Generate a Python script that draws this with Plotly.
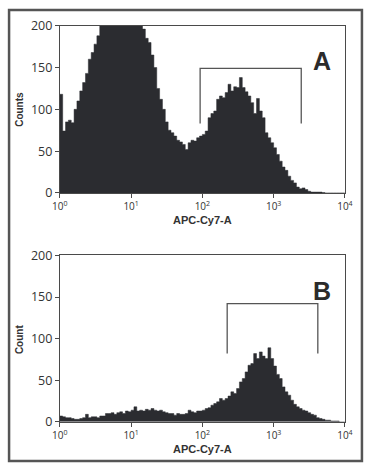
import plotly.graph_objects as go

# Histogram counts per log10 bin (bin width 0.04 decades, starting at 10^0)
bin_width_log = 0.04
counts_A = [118, 74, 85, 87, 84, 100, 110, 122, 132, 143,
            160, 168, 178, 188, 215, 230, 245, 255, 262, 270,
            268, 262, 255, 248, 240, 230, 220, 210, 205, 196,
            185, 180, 165, 150, 125, 112, 100, 85, 75, 72,
            68, 63, 61, 58, 52, 60, 63, 62, 66, 68,
            70, 74, 90, 95, 98, 112, 116, 114, 120, 130,
            122, 127, 126, 138, 126, 121, 116, 108, 95, 113,
            98, 90, 72, 66, 60, 54, 46, 38, 31, 27,
            20, 15, 12, 7, 5, 6, 4, 2, 1, 1,
            1, 1, 0.5, 0, 0, 0, 0, 0, 0, 0]
counts_B = [7, 6, 5, 5, 4, 3, 3, 4, 5, 9,
            5, 6, 6, 5, 7, 7, 10, 10, 11, 9,
            11, 12, 10, 13, 12, 14, 18, 13, 14, 13,
            15, 14, 16, 14, 13, 14, 12, 11, 10, 10,
            8, 10, 9, 9, 10, 14, 12, 11, 13, 13,
            14, 16, 17, 20, 22, 24, 28, 26, 28, 31,
            36, 34, 40, 48, 52, 60, 68, 70, 82, 76,
            84, 79, 76, 89, 76, 67, 57, 52, 42, 36,
            32, 26, 21, 18, 16, 14, 13, 11, 9, 8,
            5, 4, 3, 2, 2, 1, 1, 1, 0, 0]

# Gates: [left, right] in APC-Cy7-A units, bracket top and leg-bottom in counts
gate_A_x = [93, 2440]
gate_A_y = [149, 83]
gate_B_x = [223, 4170]
gate_B_y = [142, 82]

y_ticks = [0, 50, 100, 150, 200]
x_tickvals = [1, 10, 100, 1000, 10000]
x_ticktext = ["10<sup>0</sup>", "10<sup>1</sup>", "10<sup>2</sup>", "10<sup>3</sup>", "10<sup>4</sup>"]

panel_labels = ["A", "B"]
y_titles = ["Counts", "Count"]
x_title = "APC-Cy7-A"

FILL = "#2b2c30"
LINE = "#4a4a4a"


def step_xy(counts):
    xs, ys = [], []
    for i, c in enumerate(counts):
        xs.append(10 ** (i * bin_width_log))
        ys.append(c)
    xs.append(10 ** (len(counts) * bin_width_log))
    ys.append(counts[-1])
    return xs, ys


fig = go.Figure()
for k, (counts, gx, gy) in enumerate([(counts_A, gate_A_x, gate_A_y), (counts_B, gate_B_x, gate_B_y)]):
    xa = "x" if k == 0 else "x2"
    ya = "y" if k == 0 else "y2"
    xs, ys = step_xy(counts)
    fig.add_trace(go.Scatter(x=xs, y=ys, mode="lines", line_shape="hv",
                             line=dict(color=FILL, width=0.5), fill="tozeroy",
                             fillcolor=FILL, xaxis=xa, yaxis=ya, hoverinfo="skip"))
    fig.add_trace(go.Scatter(x=[gx[0], gx[0], gx[1], gx[1]], y=[gy[1], gy[0], gy[0], gy[1]],
                             mode="lines", line=dict(color="#555555", width=1.3),
                             xaxis=xa, yaxis=ya, hoverinfo="skip"))

common_x = dict(type="log", range=[0, 4], tickvals=x_tickvals, ticktext=x_ticktext,
                showline=True, mirror=True, linecolor=LINE, linewidth=1,
                ticks="outside", ticklen=4, tickcolor=LINE, showgrid=False, zeroline=False,
                tickfont=dict(family="Open Sans", size=10, color="#333"),
                domain=[0.146, 0.949])
common_y = dict(range=[0, 200], tickvals=y_ticks, showline=True, mirror=True,
                linecolor=LINE, linewidth=1, ticks="outside", ticklen=4, tickcolor=LINE,
                showgrid=False, zeroline=False,
                tickfont=dict(family="Open Sans", size=12.5, color="#333"))

fig.update_layout(
    width=371, height=470, margin=dict(l=0, r=0, t=0, b=0),
    paper_bgcolor="white", plot_bgcolor="white", showlegend=False,
    xaxis=dict(**common_x, anchor="y"),
    yaxis=dict(**common_y, domain=[0.594, 0.963], anchor="x"),
    xaxis2=dict(**common_x, anchor="y2"),
    yaxis2=dict(**common_y, domain=[0.0887, 0.456], anchor="x2"),
)

ann = []
panel_dom = [(0.594, 0.963), (0.0887, 0.456)]
for k in range(2):
    lo, hi = panel_dom[k]
    ann.append(dict(text="<b>%s</b>" % panel_labels[k], xref="paper", yref="paper",
                    x=328 / 371, y=hi - 37 / 470, showarrow=False,
                    xanchor="center", yanchor="middle",
                    font=dict(family="Liberation Sans", size=25, color="#2b2b2b")))
    ann.append(dict(text="<b>%s</b>" % x_title, xref="paper", yref="paper",
                    x=(0.146 + 0.949) / 2, y=lo - 28 / 470, showarrow=False,
                    xanchor="center", yanchor="middle",
                    font=dict(family="Liberation Sans", size=11, color="#333")))
    ann.append(dict(text="<b>%s</b>" % y_titles[k], xref="paper", yref="paper",
                    x=12 / 371, y=(lo + hi) / 2, showarrow=False, textangle=-90,
                    xanchor="center", yanchor="middle",
                    font=dict(family="Liberation Sans", size=10, color="#333")))
fig.update_layout(annotations=ann)

fig.add_shape(type="rect", xref="paper", yref="paper", x0=0.003, x1=0.997, y0=0.002, y1=0.998,
              line=dict(color="#555555", width=2.5))

fig.write_html("out.html",
               post_script=("var d=document.getElementById('{plot_id}');"
                            "d.style.position='fixed';d.style.left='0px';d.style.top='0px';"
                            "document.body.style.margin='0';"))
